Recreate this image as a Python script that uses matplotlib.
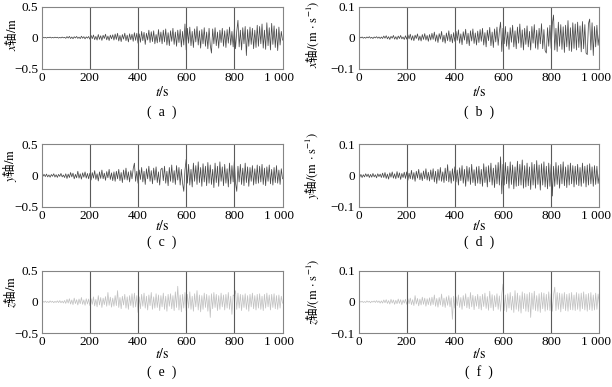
import numpy as np
import matplotlib.pyplot as plt
from matplotlib.transforms import ScaledTranslation

plt.rcParams['mathtext.fontset'] = 'stix'
plt.rcParams['font.family'] = ['Liberation Serif', 'Noto Sans CJK SC']
plt.rcParams['axes.unicode_minus'] = True

# шаг по времени, с
dt = 5

# (a) x, перемещение, м
x_disp = [
    0.0, 0.006, -0.004, 0.003, -0.007, 0.005, -0.002, 0.008, -0.006, 0.004,
    -0.005, 0.007, -0.003, 0.006, -0.008, 0.004, -0.006, 0.009, -0.004, 0.005,
    -0.012, 0.016, -0.008, 0.02, -0.015, 0.01, -0.018, 0.014, -0.006, 0.019,
    -0.013, 0.008, -0.017, 0.022, -0.01, 0.015, -0.02, 0.012, -0.009, 0.018,
    -0.025, 0.035, -0.018, 0.042, -0.033, 0.02, -0.04, 0.05, -0.028, 0.03,
    -0.045, 0.038, -0.015, 0.055, -0.036, 0.025, -0.048, 0.04, -0.02, 0.045,
    -0.04, 0.058, -0.03, 0.07, -0.055, 0.035, -0.065, 0.05, -0.025, 0.072,
    -0.05, 0.04, -0.07, 0.062, -0.035, 0.055, -0.06, 0.08, -0.045, 0.07,
    -0.09, 0.06, -0.075, 0.1, -0.05, 0.085, -0.11, 0.07, -0.04, 0.12,
    -0.08, 0.095, -0.065, 0.11, -0.1, 0.05, -0.085, 0.13, -0.07, 0.09,
    -0.1, 0.12, -0.07, 0.14, -0.12, 0.08, -0.13, 0.11, -0.06, 0.15,
    -0.11, 0.09, -0.14, 0.12, -0.08, 0.13, -0.15, 0.1, -0.12, 0.22,
    -0.2, 0.15, -0.09, 0.17, -0.13, 0.1, -0.16, 0.14, -0.07, 0.18,
    -0.12, 0.11, -0.17, 0.13, -0.1, 0.16, -0.14, 0.09, -0.18, 0.15,
    -0.12, -0.25, 0.14, -0.1, 0.16, -0.13, 0.09, -0.17, 0.12, -0.08,
    0.15, -0.14, 0.11, -0.16, 0.13, -0.09, 0.17, -0.12, 0.1, -0.15,
    0.14, -0.18, 0.1, 0.28, -0.15, 0.12, -0.2, 0.16, -0.1, 0.18,
    -0.29, 0.13, -0.14, 0.17, -0.11, 0.15, -0.18, 0.12, -0.16, 0.2,
    -0.14, 0.18, -0.1, 0.22, -0.17, 0.12, -0.19, 0.24, -0.13, 0.16,
    -0.2, 0.23, -0.11, 0.19, -0.16, 0.14, -0.21, 0.17, -0.12, 0.1,
    -0.04]

# (b) x, скорость, м/с
x_vel = [
    -0.015, 0.002, -0.001, 0.002, -0.002, 0.001, -0.002, 0.002, -0.001, 0.003,
    -0.002, 0.001, -0.003, 0.002, -0.001, 0.003, -0.002, 0.002, -0.003, 0.002,
    -0.003, 0.005, -0.002, 0.006, -0.004, 0.003, -0.006, 0.004, -0.002, 0.007,
    -0.005, 0.003, -0.006, 0.005, -0.003, 0.007, -0.004, 0.002, -0.006, 0.006,
    -0.005, 0.009, -0.004, 0.011, -0.008, 0.006, -0.01, 0.008, -0.003, 0.012,
    -0.009, 0.005, -0.011, 0.01, -0.006, 0.013, -0.008, 0.007, -0.012, 0.01,
    -0.008, 0.014, -0.006, 0.018, -0.012, 0.009, -0.016, 0.013, -0.005, 0.02,
    -0.014, 0.008, -0.018, 0.015, -0.01, 0.022, -0.013, 0.011, -0.017, 0.016,
    -0.012, 0.02, -0.009, 0.025, -0.018, 0.012, -0.023, 0.019, -0.008, 0.027,
    -0.02, 0.014, -0.026, 0.022, -0.011, 0.028, -0.019, 0.015, -0.024, 0.021,
    -0.016, 0.026, -0.012, 0.03, -0.024, 0.016, -0.03, 0.024, -0.01, 0.033,
    -0.026, 0.018, -0.032, 0.028, -0.014, 0.034, -0.025, 0.02, 0.05, -0.045,
    0.03, -0.02, 0.036, -0.028, 0.018, -0.038, 0.032, -0.015, 0.04, -0.03,
    0.022, -0.036, 0.034, -0.018, 0.044, -0.032, 0.025, -0.04, 0.03, -0.022,
    0.038, -0.03, 0.02, -0.04, 0.036, -0.018, 0.042, -0.034, 0.024, -0.038,
    0.03, -0.02, 0.045, -0.036, 0.026, -0.042, -0.05, 0.032, -0.028, 0.04,
    -0.035, 0.045, 0.073, -0.04, 0.03, -0.045, 0.05, -0.028, 0.042, -0.038,
    0.035, -0.048, 0.04, -0.03, 0.055, -0.042, 0.032, -0.045, 0.048, -0.035,
    0.044, -0.04, 0.05, -0.032, 0.038, -0.046, 0.052, -0.036, 0.042, -0.05,
    -0.055, 0.045, 0.06, -0.04, 0.048, -0.058, 0.036, -0.03, 0.04, -0.025,
    0.01]

# (c) y, перемещение, м
y_disp = [
    0.2, -0.01, 0.02, -0.015, 0.025, -0.02, 0.012, -0.025, 0.018, -0.01,
    0.03, -0.022, 0.015, -0.028, 0.02, -0.012, 0.035, -0.02, 0.01, -0.03,
    0.03, -0.045, 0.025, -0.03, 0.05, -0.02, 0.04, -0.05, 0.02, -0.035,
    0.07, -0.04, 0.03, -0.055, 0.045, -0.025, 0.06, -0.04, 0.035, -0.05,
    0.04, -0.07, 0.05, -0.04, 0.08, -0.06, 0.03, -0.085, 0.06, -0.045,
    0.09, -0.05, 0.04, -0.075, 0.065, -0.035, 0.1, -0.06, 0.045, -0.08,
    0.06, -0.09, 0.07, -0.05, 0.1, -0.08, 0.05, -0.11, 0.09, -0.06,
    0.12, -0.07, 0.06, -0.1, 0.08, -0.05, 0.11, 0.2, -0.09, 0.07,
    -0.12, 0.09, -0.06, 0.13, -0.1, 0.07, -0.14, 0.11, -0.05, 0.15,
    -0.09, 0.08, -0.13, 0.12, -0.07, 0.14, -0.11, 0.06, -0.15, 0.1,
    0.12, -0.08, 0.15, -0.12, 0.07, -0.16, 0.13, -0.09, 0.17, -0.11,
    0.08, -0.14, 0.16, -0.07, 0.13, -0.15, 0.1, -0.12, -0.25, 0.09,
    0.26, -0.12, 0.18, -0.15, 0.1, -0.18, 0.2, -0.09, 0.16, -0.14,
    0.22, -0.11, 0.13, -0.17, 0.19, -0.1, 0.15, -0.16, 0.21, -0.12,
    0.17, -0.14, 0.1, -0.19, 0.2, -0.11, 0.15, -0.17, 0.22, -0.09,
    0.14, -0.16, 0.18, -0.12, 0.11, -0.18, 0.2, -0.13, 0.16, -0.1,
    0.23, -0.12, -0.25, 0.15, -0.1, 0.18, -0.14, 0.12, -0.16, 0.2,
    -0.11, 0.14, -0.17, 0.13, -0.09, 0.16, -0.15, 0.11, -0.13, 0.17,
    -0.12, 0.15, -0.1, 0.18, -0.14, 0.12, -0.16, 0.14, -0.09, 0.17,
    -0.13, 0.1, -0.15, 0.13, -0.11, 0.16, -0.12, 0.09, -0.14, 0.11,
    -0.05]

# (d) y, скорость, м/с
y_vel = [
    0.06, -0.005, 0.004, -0.006, 0.003, -0.004, 0.006, -0.003, 0.005, -0.006,
    0.004, -0.005, 0.007, -0.004, 0.003, -0.007, 0.006, -0.003, 0.005, -0.006,
    0.008, -0.006, 0.01, -0.009, 0.005, -0.011, 0.009, -0.005, 0.012, -0.008,
    0.006, -0.01, 0.013, -0.007, 0.009, -0.012, 0.007, -0.006, 0.011, -0.009,
    0.012, -0.015, 0.008, -0.01, 0.017, -0.012, 0.01, -0.018, 0.014, -0.008,
    0.02, -0.013, 0.009, -0.016, 0.015, -0.01, 0.022, -0.014, 0.011, -0.017,
    0.018, -0.012, 0.022, -0.02, 0.014, -0.025, 0.02, -0.015, 0.026, -0.018,
    0.012, -0.022, 0.024, -0.016, 0.035, -0.02, 0.015, -0.024, 0.022, -0.017,
    0.028, -0.02, 0.018, -0.03, 0.025, -0.016, 0.032, -0.024, 0.02, -0.034,
    0.03, -0.018, 0.026, -0.028, 0.036, -0.022, 0.019, -0.032, 0.028, -0.024,
    0.03, -0.026, 0.02, -0.034, 0.038, -0.022, 0.028, -0.036, 0.032, -0.02,
    0.04, -0.03, 0.024, -0.038, 0.034, -0.026, 0.042, -0.03, 0.06, -0.058,
    0.036, -0.03, 0.042, -0.026, 0.03, -0.04, 0.044, -0.028, 0.034, -0.042,
    0.028, -0.034, 0.046, -0.032, 0.036, -0.03, 0.05, -0.04, 0.032, -0.036,
    0.04, -0.032, 0.028, -0.044, 0.042, -0.03, 0.036, -0.04, 0.048, -0.028,
    0.034, -0.046, 0.038, -0.03, 0.044, -0.036, 0.03, -0.042, 0.04, -0.034,
    0.036, -0.065, 0.03, -0.034, 0.042, -0.028, 0.032, -0.04, 0.036, -0.026,
    0.044, -0.032, 0.028, -0.038, 0.034, -0.03, 0.04, -0.026, 0.032, -0.036,
    0.03, -0.028, 0.036, -0.032, 0.026, -0.034, 0.04, -0.024, 0.03, -0.036,
    0.034, -0.03, 0.038, -0.026, 0.028, -0.034, 0.032, -0.028, 0.03, -0.025,
    0.005]

# (e) z, перемещение, м
z_disp = [
    0.0, 0.01, -0.008, 0.012, -0.01, 0.006, -0.012, 0.015, -0.007, 0.01,
    -0.014, 0.008, -0.01, 0.016, -0.012, 0.02, -0.015, 0.012, -0.018, 0.022,
    -0.025, 0.04, -0.02, 0.05, -0.035, 0.03, -0.045, 0.06, -0.028, 0.035,
    -0.05, 0.045, -0.03, 0.07, -0.04, 0.032, -0.055, 0.05, -0.035, 0.045,
    -0.06, 0.05, -0.04, 0.08, -0.065, 0.04, -0.08, 0.1, -0.05, 0.07,
    -0.09, 0.06, -0.045, 0.085, -0.07, 0.15, -0.055, 0.075, -0.085, 0.06,
    -0.07, 0.1, -0.06, 0.18, -0.09, 0.07, -0.11, 0.09, -0.05, 0.12,
    -0.1, 0.08, -0.12, 0.1, -0.06, 0.13, -0.09, 0.14, -0.08, 0.1,
    -0.17, 0.08, -0.11, 0.12, -0.07, 0.14, -0.1, 0.09, -0.13, 0.11,
    -0.06, 0.15, -0.12, 0.08, -0.1, 0.13, -0.09, 0.11, -0.14, 0.1,
    -0.08, 0.14, -0.12, 0.09, -0.15, 0.12, -0.07, 0.13, -0.11, 0.1,
    -0.14, 0.16, -0.09, 0.25, -0.13, 0.11, -0.16, 0.12, -0.1, 0.15,
    -0.14, 0.12, -0.1, 0.16, -0.12, 0.09, -0.15, 0.13, -0.08, 0.18,
    -0.13, 0.11, -0.16, 0.1, -0.12, 0.14, -0.09, 0.12, -0.15, 0.1,
    -0.25, 0.13, -0.11, 0.15, -0.09, 0.12, -0.14, 0.1, -0.12, 0.14,
    -0.08, 0.11, -0.13, 0.12, -0.1, 0.15, -0.12, 0.09, -0.2, 0.11,
    0.1, 0.18, -0.12, 0.14, -0.1, 0.12, -0.14, 0.11, -0.09, 0.13,
    -0.12, 0.1, -0.15, 0.12, -0.08, 0.14, -0.11, 0.1, -0.13, 0.12,
    -0.1, 0.13, -0.12, 0.09, -0.14, 0.12, -0.1, 0.14, -0.08, 0.11,
    -0.13, 0.12, -0.09, 0.13, -0.11, 0.1, -0.12, 0.11, -0.1, 0.09,
    -0.02]

# (f) z, скорость, м/с
z_vel = [
    -0.04, 0.002, -0.001, 0.002, -0.002, 0.001, -0.002, 0.003, -0.001, 0.002,
    -0.003, 0.002, -0.001, 0.003, -0.002, 0.004, -0.002, 0.003, -0.004, 0.003,
    -0.004, 0.006, -0.003, 0.007, -0.005, 0.004, -0.007, 0.008, -0.004, 0.006,
    -0.008, 0.005, -0.006, 0.009, -0.005, 0.007, -0.009, 0.006, -0.004, 0.008,
    -0.008, 0.01, -0.006, 0.012, -0.009, 0.007, -0.012, 0.02, -0.007, 0.011,
    -0.013, 0.009, -0.01, 0.015, -0.008, 0.012, -0.014, 0.01, -0.009, 0.013,
    -0.012, 0.015, -0.009, 0.022, -0.014, 0.011, -0.017, 0.014, -0.01, 0.025,
    -0.015, 0.012, -0.018, 0.016, -0.011, 0.02, -0.016, 0.013, -0.056, 0.018,
    -0.02, 0.016, -0.012, 0.022, -0.018, 0.014, -0.024, 0.02, -0.013, 0.026,
    -0.019, 0.015, -0.022, 0.03, -0.016, 0.021, -0.025, 0.018, -0.014, 0.024,
    -0.022, 0.018, -0.026, 0.024, -0.015, 0.028, -0.021, 0.017, -0.027, 0.034,
    -0.019, 0.023, -0.028, 0.02, -0.016, 0.026, -0.024, 0.019, -0.03, 0.025,
    0.057, -0.028, 0.022, -0.032, 0.026, -0.02, 0.03, -0.026, 0.018, -0.034,
    0.036, -0.024, 0.028, -0.03, 0.02, -0.036, 0.032, -0.022, 0.027, -0.03,
    0.025, -0.032, 0.03, -0.05, 0.028, -0.024, 0.034, -0.028, 0.02, -0.03,
    0.026, -0.034, 0.03, -0.022, 0.028, -0.03, 0.024, -0.026, 0.032, -0.028,
    0.026, -0.03, 0.022, 0.047, -0.028, 0.03, -0.024, 0.028, -0.032, 0.026,
    -0.022, 0.03, -0.028, 0.024, -0.03, 0.027, -0.025, 0.03, -0.026, 0.022,
    -0.028, 0.03, -0.024, 0.026, -0.03, 0.028, -0.022, 0.032, -0.026, 0.024,
    -0.03, 0.027, -0.025, 0.03, -0.028, 0.022, -0.026, 0.028, -0.024, 0.025,
    -0.005]

x_ticks = [0, 200, 400, 600, 800, 1000]
x_ticklabels = ['0', '200', '400', '600', '800', '1 000']

ylab_disp = r'$%s$轴$/\mathrm{m}$'
ylab_vel = r'$%s$轴$/(\mathrm{m\,}\cdot\mathrm{\,s}^{-1})$'

panels = [
    (0, 0, x_disp, 0.5, ylab_disp % 'x', '(  a  )', '#4a4a4a'),
    (0, 1, x_vel, 0.1, ylab_vel % 'x', '(  b  )', '#4a4a4a'),
    (1, 0, y_disp, 0.5, ylab_disp % 'y', '(  c  )', '#4a4a4a'),
    (1, 1, y_vel, 0.1, ylab_vel % 'y', '(  d  )', '#4a4a4a'),
    (2, 0, z_disp, 0.5, ylab_disp % 'z', '(  e  )', '#c2c2c2'),
    (2, 1, z_vel, 0.1, ylab_vel % 'z', '(  f  )', '#c2c2c2'),
]

W, H = 612, 387
cols = [(41.7, 282.5), (358.5, 599.3)]
rows = [(6.7, 68.5), (144.3, 207.0), (270.7, 333.0)]
xlab_y = [92, 226, 354]
cap_y = [112, 242, 372]
ylab_x = [-0.094, -0.155]
ylab_pos = [[0.56, 0.55], [0.66, 0.66], [0.66, 0.66]]

fig = plt.figure(figsize=(W / 100, H / 100), dpi=100)

for r, c, data, lim, ylab, cap, color in panels:
    l, rr = cols[c]
    top, bot = rows[r]
    h = bot - top
    ax = fig.add_axes([l / W, 1 - bot / H, (rr - l) / W, h / H])
    t = np.arange(len(data)) * dt
    ax.plot(t, data, color=color, lw=0.55)
    for v in x_ticks[1:-1]:
        ax.axvline(v, color='#5a5a5a', lw=0.8)
    ax.set_xlim(0, 1000)
    ax.set_ylim(-lim, lim)
    ax.set_xticks(x_ticks)
    ax.set_xticklabels(x_ticklabels)
    ax.set_yticks([-lim, 0, lim])
    ax.set_yticklabels(['\u2212%g' % lim, '0', '%g' % lim])
    ax.tick_params(length=0, pad=2.5, labelsize=9.5, colors='black')
    # подпись "1 000" чуть левее, как в оригинале
    last = ax.get_xticklabels()[-1]
    last.set_transform(last.get_transform() +
                       ScaledTranslation(-3 / 100, 0, fig.dpi_scale_trans))
    for s in ax.spines.values():
        s.set_color('#858585')
        s.set_linewidth(0.8)
    ax.set_xlabel(r'$t/\mathrm{s}$', fontsize=10)
    ax.xaxis.label.set_va('center')
    ax.xaxis.set_label_coords(0.5, -(xlab_y[r] - bot) / h)
    ax.set_ylabel(ylab, fontsize=9, family='Noto Sans CJK SC')
    ax.yaxis.set_label_coords(ylab_x[c], ylab_pos[r][c])
    fig.text((l + rr) / 2 / W, 1 - cap_y[r] / H, cap, ha='center', va='center',
             fontsize=10)

plt.savefig('out.png', dpi=100)
